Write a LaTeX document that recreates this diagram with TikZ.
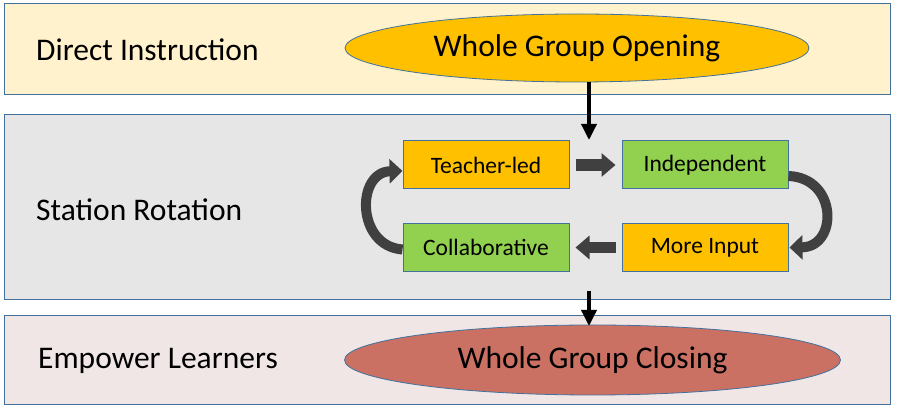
\documentclass[tikz,border=0pt]{standalone}
\usepackage{fontspec}
\setmainfont{Carlito}
\usetikzlibrary{arrows.meta,shapes.geometric}
\definecolor{bandborder}{HTML}{41719C}
\definecolor{topfill}{HTML}{FFF2CC}
\definecolor{midfill}{HTML}{E7E6E6}
\definecolor{botfill}{HTML}{F0E6E6}
\definecolor{orangefill}{HTML}{FFC000}
\definecolor{greenfill}{HTML}{92D050}
\definecolor{closefill}{HTML}{CB7164}
\definecolor{arrowgray}{HTML}{404040}
\tikzset{
  band/.style={draw=bandborder, line width=1pt, minimum width=886pt, inner sep=0pt},
  bandlabel/.style={anchor=west, inner sep=0pt, font=\fontsize{31.5pt}{36pt}\selectfont},
  oval/.style={ellipse, draw=bandborder, line width=0.8pt, minimum width=464pt, minimum height=68pt, inner sep=0pt, font=\fontsize{31.5pt}{36pt}\selectfont},
  station/.style={draw=bandborder, line width=1pt, minimum width=166pt, minimum height=48pt, inner sep=0pt, font=\fontsize{23.5pt}{28pt}\selectfont},
  blackarrow/.style={line width=3.5pt, -{Triangle[width=15pt,length=16pt]}},
  blockarrow/.style={arrowgray, line width=11.5pt, -{Triangle[width=23pt,length=14pt]}},
  curvearrow/.style={arrowgray, line width=10pt, -{Triangle[width=24pt,length=13pt]}}
}
\begin{document}
\begin{tikzpicture}[x=1pt,y=-1pt]
\useasboundingbox (0,0) rectangle (898,411);
% bands
\node[band, fill=topfill, minimum height=91pt] (topband) at (447,49.5) {};
\node[band, fill=midfill, minimum height=185pt] (midband) at (447,207.5) {};
\node[band, fill=botfill, minimum height=89pt] (botband) at (447,360.5) {};
% band labels
\node[bandlabel] (lab1) at (36,50) {Direct Instruction};
\node[bandlabel] (lab2) at (36,210) {Station Rotation};
\node[bandlabel] (lab3) at (38,361) {Empower Learners};
% ellipses
\node[oval, fill=orangefill] (open) at (577,48) {Whole Group Opening};
\node[oval, fill=closefill, minimum width=496pt, minimum height=70pt] (close) at (592.5,360) {Whole Group Closing};
% stations
\node[station, fill=orangefill] (tl) at (486,165) {Teacher-led};
\node[station, fill=greenfill] (ind) at (705,165) {Independent};
\node[station, fill=greenfill] (col) at (486,247.5) {Collaborative};
\node[station, fill=orangefill] (mi) at (705,247.5) {More Input};
% black arrows
\coordinate (a1s) at (589,82);
\coordinate (a1e) at (589,140);
\coordinate (a2s) at (589,291);
\coordinate (a2e) at (589,326);
\draw[blackarrow] (a1s) -- (a1e);
\draw[blackarrow] (a2s) -- (a2e);
% block arrows
\draw[blockarrow] ([xshift=6pt]tl.east) -- ([xshift=-6pt]ind.west);
\draw[blockarrow] ([xshift=-6pt]mi.west) -- ([xshift=6pt]col.east);
% curved arrows
\draw[curvearrow] ([yshift=-11pt]ind.east) .. controls (838,178) and (838,247) .. ([xshift=1pt]mi.east);
\draw[curvearrow] ([yshift=-2pt]col.west) .. controls (356,246) and (356,172) .. ([yshift=-6pt]tl.west);
\end{tikzpicture}
\end{document}
